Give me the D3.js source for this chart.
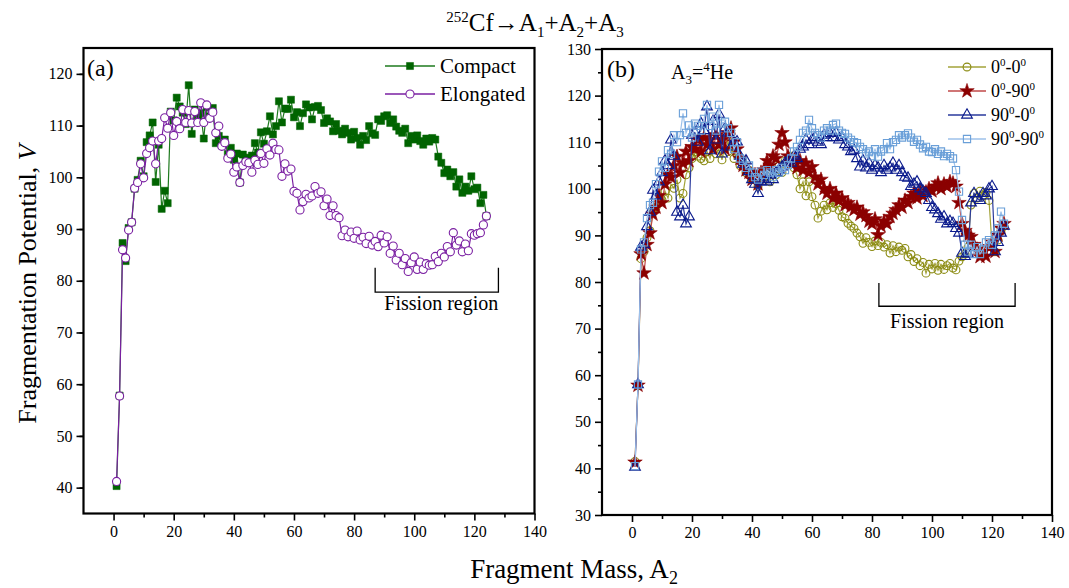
<!DOCTYPE html>
<html><head><meta charset="utf-8">
<script src="https://cdn.jsdelivr.net/npm/d3@7"></script>
<style>body{margin:0;background:#fff} text{font-family:"Liberation Serif","Times New Roman",serif;fill:#000}</style>
</head><body><svg id="c" width="1069" height="588"></svg>
<script>
// ---------- DATA ----------
const massA = d3.range(1, 125); // fragment mass A2 = 1..124
const compact = [40.3,57.8,87.3,83.8,90.2,91.3,97.8,99.5,103.2,100.2,106.8,108.1,110.6,99.1,106.3,93.9,97.4,95.0,112.7,111.0,
115.4,113.7,112.5,110.3,117.8,108.4,113.1,111.8,112.4,107.5,113.6,111.8,113.4,106.6,108.0,106.2,107.3,104.5,105.7,103.4,
104.6,99.0,104.4,103.8,102.9,104.2,106.6,104.8,108.7,106.5,108.9,111.8,108.3,109.9,114.7,110.6,113.3,113.2,115.0,111.6,
112.6,109.9,112.4,114.1,113.5,111.2,113.6,113.8,113.0,110.5,111.4,110.8,108.9,110.3,109.0,108.3,109.4,108.6,107.3,108.8,
107.6,106.3,108.0,107.2,109.9,108.5,108.2,111.2,110.9,111.8,112.0,110.5,111.2,109.8,109.0,108.6,109.4,106.6,108.0,107.3,
108.1,107.0,106.3,107.5,106.9,107.6,107.3,104.0,102.8,100.8,101.5,100.2,101.0,98.2,99.6,97.0,98.2,97.4,100.2,97.7,
98.0,95.0,96.6,92.5];
const elongated = [41.2,57.7,86.0,84.4,89.8,91.3,97.9,99.0,102.6,99.9,104.6,105.7,107.0,102.6,107.0,107.5,111.5,109.5,112.5,108.1,
110.8,109.4,113.1,110.6,112.9,110.5,112.7,110.6,114.4,110.6,114.0,111.4,112.6,108.6,109.9,106.0,106.7,103.7,104.5,101.0,
102.0,99.0,102.3,103.0,102.8,101.0,103.3,102.5,104.6,102.7,105.5,104.3,106.6,105.4,105.3,100.2,102.6,101.2,101.6,97.3,
96.9,93.7,95.3,96.7,96.0,96.4,98.2,96.9,97.2,94.5,95.8,92.6,94.5,92.6,92.2,88.7,89.8,88.5,89.4,88.2,
89.6,87.9,88.4,87.2,88.6,86.9,87.6,86.6,88.8,87.3,88.5,85.3,86.7,84.0,85.3,83.1,84.3,81.8,83.5,84.6,
82.2,83.6,82.2,83.3,83.0,83.1,84.7,83.7,85.3,84.6,86.6,85.6,89.3,86.9,87.7,85.6,87.1,85.8,89.1,88.8,
89.1,89.3,90.8,92.5];
const orient00 = [41.5,57.7,85.0,86.5,89.5,91.0,95.0,96.0,97.0,97.6,99.5,98.0,101.0,100.1,102.0,98.0,99.0,103.0,104.5,106.5,
108.0,107.0,106.5,106.0,108.0,106.5,109.0,107.5,108.5,106.2,109.5,108.0,110.0,106.5,107.5,105.0,105.5,103.5,104.0,102.0,
102.5,100.5,102.0,102.5,103.0,101.5,103.5,103.0,105.0,103.5,106.0,105.5,107.0,104.5,103.0,100.0,101.5,98.5,101.5,98.3,
96.5,93.7,95.2,96.5,95.5,97.0,96.0,96.8,95.4,94.0,93.7,92.6,92.0,91.5,90.5,89.7,88.3,89.5,88.5,87.6,
88.8,87.8,88.5,87.5,88.0,86.2,87.8,86.5,87.5,86.8,87.2,85.4,85.9,84.4,85.0,83.5,84.2,81.9,83.8,82.8,
84.0,82.5,83.8,82.7,83.5,84.0,83.0,82.6,84.5,85.4,86.0,87.5,96.5,99.0,98.0,99.5,98.5,99.2,97.5,88.0,
86.5,89.0,91.0,92.0];
const orient090 = [41.3,57.8,86.0,81.9,88.0,90.5,94.5,96.0,98.5,97.0,101.0,103.0,102.5,105.0,106.9,103.5,105.5,108.0,106.0,109.0,
108.5,110.5,108.0,111.0,109.5,110.5,108.5,111.5,109.5,110.5,108.5,112.0,113.0,110.0,108.5,106.5,105.0,104.0,103.5,102.0,
103.0,101.0,103.5,104.0,106.0,105.0,107.0,106.5,109.5,112.0,110.0,107.0,105.5,106.5,104.5,106.0,104.0,105.5,103.5,104.7,
102.5,101.0,102.0,100.0,99.0,100.0,98.0,99.0,97.5,98.0,96.5,97.0,96.2,95.5,96.0,94.5,95.0,94.2,93.0,92.5,
93.5,90.1,92.0,93.0,92.5,94.0,94.7,95.5,96.5,96.0,97.5,97.0,98.3,99.0,98.0,99.5,98.5,99.3,100.0,99.5,
100.5,101.2,100.0,101.0,100.5,101.5,101.2,100.5,97.0,92.5,91.0,90.0,89.7,88.0,87.0,85.4,86.5,85.5,87.5,88.5,
86.5,90.0,91.5,92.5];
const orient900 = [40.3,58.0,87.5,88.0,91.9,95.0,99.7,98.5,101.5,103.5,106.0,105.0,110.5,107.0,95.0,94.0,96.5,92.5,94.0,111.5,
112.0,110.0,114.0,112.5,117.6,108.2,114.5,110.5,116.0,107.5,113.0,112.0,109.0,110.0,110.1,107.0,105.3,106.0,103.7,102.0,
101.0,99.0,101.5,102.0,101.5,103.0,102.0,103.5,104.0,104.7,105.5,106.0,105.5,107.0,106.5,108.5,109.0,110.5,109.5,110.5,
111.0,110.0,109.5,111.5,111.0,111.9,111.0,112.0,110.5,111.0,109.5,109.0,108.0,108.3,106.5,104.7,106.0,104.5,105.5,104.0,
105.0,104.5,103.5,105.0,104.0,104.5,105.5,104.0,105.0,103.5,102.5,102.3,100.5,101.0,101.5,100.0,99.5,99.0,97.5,96.0,
95.5,94.7,93.5,94.0,92.5,93.0,92.6,91.5,90.5,86.2,85.5,86.0,97.0,99.0,98.0,97.5,99.0,98.5,100.0,100.5,
86.5,88.5,90.5,92.0];
const orient9090 = [40.5,58.0,87.0,88.5,93.7,96.5,97.0,101.0,103.7,105.9,104.5,108.3,107.5,111.5,110.0,111.5,116.2,112.0,113.6,111.0,
114.0,113.5,112.5,115.0,118.0,113.5,115.5,112.5,118.0,114.0,114.4,113.0,112.0,108.5,110.0,106.5,106.0,104.5,105.0,103.5,
102.5,102.0,103.7,103.0,104.0,103.5,102.5,104.0,103.5,104.5,104.0,105.1,106.5,108.0,109.0,110.5,112.0,112.5,114.8,113.0,
112.0,111.5,111.0,112.5,113.0,112.5,113.7,114.0,112.5,112.0,111.8,111.0,110.5,110.0,109.8,109.0,108.5,107.6,108.0,107.0,
108.5,106.9,108.0,108.5,109.8,108.5,110.0,110.5,111.5,111.0,111.5,111.9,111.0,110.1,110.5,109.5,108.7,109.0,108.0,107.9,
108.5,107.5,108.0,107.0,107.5,107.0,106.5,104.0,99.4,93.3,88.0,86.5,88.0,86.0,87.5,86.0,87.0,88.5,89.0,88.0,
90.0,91.5,95.1,92.5];
const xTicks = [0,20,40,60,80,100,120,140];
const yTicksA = [40,50,60,70,80,90,100,110,120];
const yTicksB = [30,40,50,60,70,80,90,100,110,120,130];

// ---------- DRAW ----------
const svg = d3.select("#c");
const serif = '"Liberation Serif","Times New Roman",serif';

function panel(cfg) {
  const x = d3.scaleLinear().domain([-10, 140]).range([cfg.x0, cfg.x1]);
  const y = d3.scaleLinear().domain(cfg.yDom).range([cfg.y1, cfg.y0]);
  const g = svg.append("g");
  const minorX = d3.range(10, 140, 20);
  const minorY = d3.range(cfg.yDom[0] + 5, cfg.yDom[1], 10);
  g.append("g").attr("transform", `translate(0,${cfg.y1})`)
    .call(d3.axisBottom(x).tickValues(minorX).tickSize(4).tickFormat(""))
    .call(a => a.select(".domain").remove()).selectAll("line").attr("stroke-width", 1.6);
  g.append("g").attr("transform", `translate(${cfg.x0},0)`)
    .call(d3.axisLeft(y).tickValues(minorY).tickSize(4).tickFormat(""))
    .call(a => a.select(".domain").remove()).selectAll("line").attr("stroke-width", 1.6);
  const ax = g.append("g").attr("transform", `translate(0,${cfg.y1})`)
    .call(d3.axisBottom(x).tickValues(xTicks).tickSize(7).tickPadding(5));
  const ay = g.append("g").attr("transform", `translate(${cfg.x0},0)`)
    .call(d3.axisLeft(y).tickValues(cfg.yTicks).tickSize(7).tickPadding(4));
  [ax, ay].forEach(a => {
    a.attr("font-family", serif).attr("font-size", 16);
    a.select(".domain").remove();
    a.selectAll("line").attr("stroke-width", 1.6);
    a.selectAll("text").style("font-family", serif).style("font-size", "16px").attr("fill", "#000");
  });
  g.append("rect").attr("x", cfg.x0).attr("y", cfg.y0)
    .attr("width", cfg.x1 - cfg.x0).attr("height", cfg.y1 - cfg.y0)
    .attr("fill", "none").attr("stroke", "#000").attr("stroke-width", 2.2);
  return {x, y, g};
}

function series(p, vals, st) {
  const data = massA.map((a, i) => [a, vals[i]]);
  const line = d3.line().x(d => p.x(d[0])).y(d => p.y(d[1]));
  p.g.append("path").datum(data).attr("d", line).attr("fill", "none")
    .attr("stroke", st.line).attr("stroke-width", 1.2);
  const sym = d3.symbol().type(st.type).size(st.size);
  p.g.append("g").selectAll("path").data(data).join("path")
    .attr("transform", d => `translate(${p.x(d[0])},${p.y(d[1])})`)
    .attr("d", sym).attr("fill", st.fill).attr("stroke", st.stroke).attr("stroke-width", st.sw);
}

function legendItem(g, x0, x1, yy, st, label, fs) {
  g.append("line").attr("x1", x0).attr("x2", x1).attr("y1", yy).attr("y2", yy)
    .attr("stroke", st.line).attr("stroke-width", 1.5);
  g.append("path").attr("transform", `translate(${(x0 + x1) / 2},${yy})`)
    .attr("d", d3.symbol().type(st.type).size(st.size)).attr("fill", st.fill)
    .attr("stroke", st.stroke).attr("stroke-width", st.sw);
  const t = g.append("text").attr("x", x1 + 5).attr("y", yy + fs * 0.33).style("font-size", fs + "px");
  label(t);
}

function bracket(p, a0, a1, vLow, vHigh, tx, ty) {
  const yl = p.y(vLow), yh = p.y(vHigh);
  p.g.append("path")
    .attr("d", `M${p.x(a0)},${yh}V${yl}H${p.x(a1)}V${yh}`)
    .attr("fill", "none").attr("stroke", "#000").attr("stroke-width", 1.3);
  p.g.append("text").attr("x", p.x(tx)).attr("y", p.y(ty)).attr("text-anchor", "middle")
    .style("font-size", "20px").text("Fission region");
}

// left panel
const pA = panel({x0: 83.5, x1: 534.5, y0: 48, y1: 513.5, yDom: [35, 125], yTicks: yTicksA});
const stCompact = {type: d3.symbolSquare, size: 50, fill: "#006400", stroke: "#006400", sw: 0.5, line: "#1e7a1e"};
const stElong = {type: d3.symbolCircle, size: 52, fill: "#fff", stroke: "#7a1fa2", sw: 1.1, line: "#7a1fa2"};
series(pA, compact, stCompact);
series(pA, elongated, stElong);
legendItem(pA.g, 385, 435, 66, stCompact, t => t.text("Compact"), 21);
legendItem(pA.g, 385, 435, 94, stElong, t => t.text("Elongated"), 21);
pA.g.append("text").attr("x", 87).attr("y", 76).style("font-size", "24px").text("(a)");
bracket(pA, 87, 128, 77.8, 82.5, 109, 74.4);

// right panel
const pB = panel({x0: 602, x1: 1052, y0: 49, y1: 515, yDom: [30, 130], yTicks: yTicksB});
const st00 = {type: d3.symbolCircle, size: 48, fill: "none", stroke: "#8a8a10", sw: 1.1, line: "#a3a33a"};
const st090 = {type: d3.symbolStar, size: 65, fill: "#8b0000", stroke: "#8b0000", sw: 0.6, line: "#c04848"};
const st900 = {type: d3.symbolTriangle, size: 50, fill: "none", stroke: "#0a1a8c", sw: 1.1, line: "#2a3a9c"};
const st9090 = {type: d3.symbolSquare, size: 52, fill: "none", stroke: "#6a9fd8", sw: 1.1, line: "#9cc1ea"};
series(pB, orient00, st00);
series(pB, orient090, st090);
series(pB, orient900, st900);
series(pB, orient9090, st9090);
function degLabel(a, b) {
  return t => {
    t.append("tspan").text(a);
    t.append("tspan").attr("dy", -7).style("font-size", "11px").text("0");
    t.append("tspan").attr("dy", 7).text("-" + b);
    t.append("tspan").attr("dy", -7).style("font-size", "11px").text("0");
  };
}
legendItem(pB.g, 948, 986, 67, st00, degLabel("0", "0"), 18);
legendItem(pB.g, 948, 986, 91, st090, degLabel("0", "90"), 18);
legendItem(pB.g, 948, 986, 115, st900, degLabel("90", "0"), 18);
legendItem(pB.g, 948, 986, 139, st9090, degLabel("90", "90"), 18);
pB.g.append("text").attr("x", 607).attr("y", 77).style("font-size", "24px").text("(b)");
const he = pB.g.append("text").attr("x", 671).attr("y", 79).style("font-size", "20px");
he.append("tspan").text("A");
he.append("tspan").attr("dy", 5).style("font-size", "13px").text("3");
he.append("tspan").attr("dy", -5).text("=");
he.append("tspan").attr("dy", -8).style("font-size", "13px").text("4");
he.append("tspan").attr("dy", 8).text("He");
bracket(pB, 82.3, 127.7, 74.8, 79.8, 105, 70.2);

// title
const tt = svg.append("text").attr("x", 535).attr("y", 31).attr("text-anchor", "middle").style("font-size", "25px");
tt.append("tspan").attr("dy", -9).style("font-size", "15px").text("252");
tt.append("tspan").attr("dy", 9).text("Cf\u2192A");
tt.append("tspan").attr("dy", 6).style("font-size", "15px").text("1");
tt.append("tspan").attr("dy", -6).text("+A");
tt.append("tspan").attr("dy", 6).style("font-size", "15px").text("2");
tt.append("tspan").attr("dy", -6).text("+A");
tt.append("tspan").attr("dy", 6).style("font-size", "15px").text("3");

// axis titles
const yl = svg.append("text").attr("transform", "translate(36,284) rotate(-90)")
  .attr("text-anchor", "middle").style("font-size", "26px");
yl.append("tspan").text("Fragmentation Potential, ");
yl.append("tspan").style("font-style", "italic").text("V");
const xl = svg.append("text").attr("x", 574).attr("y", 578).attr("text-anchor", "middle").style("font-size", "27px");
xl.append("tspan").text("Fragment Mass, A");
xl.append("tspan").attr("dy", 6).style("font-size", "18px").text("2");
</script></body></html>
